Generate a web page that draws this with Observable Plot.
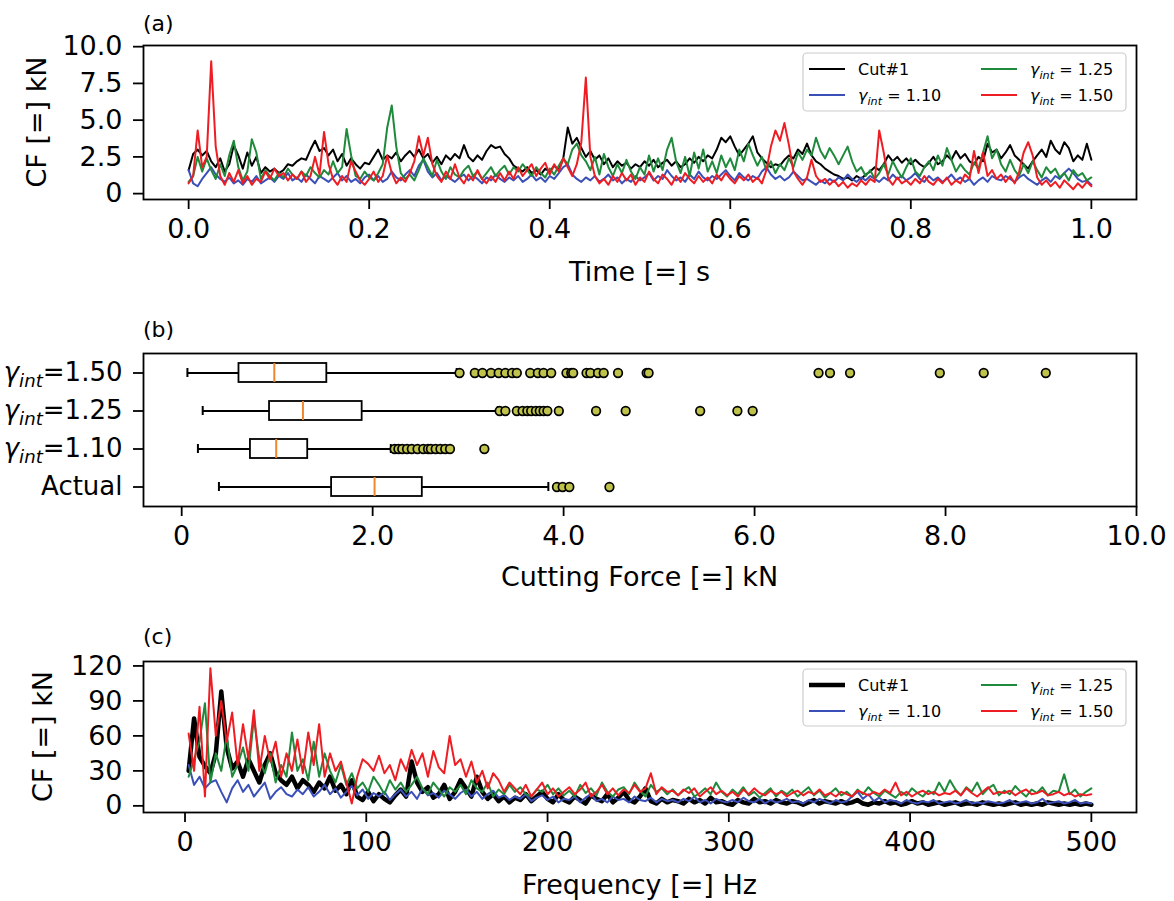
<!DOCTYPE html>
<html><head><meta charset="utf-8">
<script src="https://cdn.jsdelivr.net/npm/d3@7"></script>
<script src="https://cdn.jsdelivr.net/npm/@observablehq/plot@0.6"></script>
<style>
body{margin:0;background:#fff;}
#root{position:relative;width:1174px;height:901px;overflow:hidden;background:#fff;font-family:"DejaVu Sans",sans-serif;}
.panel{position:absolute;left:0;}
#root svg g[aria-label="x-axis tick"], #root svg g[aria-label="y-axis tick"]{stroke-width:1.8px;}
</style></head><body><div id="root"></div>
<script>
// ---------------- DATA ----------------
const seriesNames = ["Cut#1", "γint = 1.10", "γint = 1.25", "γint = 1.50"];
const seriesColors = ["#000000", "#3b4fb8", "#1f8a3c", "#ee1d23"];

// Panel (a): cutting force time series, sampled every 0.005 s from 0 to 1 s
const TIME_STEP = 0.005;
const timeCut1 = [
1.6,2.7,3.0,2.6,2.9,2.2,1.8,2.4,1.5,2.0,
3.3,2.6,1.7,2.8,1.9,2.5,1.4,1.8,1.5,1.7,
1.4,1.6,2.0,1.9,2.2,2.4,2.3,3.0,3.6,2.9,
3.1,2.6,3.0,2.2,2.7,1.9,2.4,2.0,1.7,2.1,
2.0,2.5,3.0,2.3,2.6,2.4,2.8,2.2,2.6,2.9,
2.5,3.0,2.4,2.7,2.1,2.5,2.0,2.6,2.3,2.7,
2.4,3.3,2.5,2.2,2.6,2.3,2.9,3.3,3.1,3.2,
2.7,2.4,1.9,1.7,1.5,1.8,1.4,1.6,1.3,1.7,
1.5,1.9,1.6,2.4,4.5,3.4,3.8,3.1,2.5,2.9,
2.3,2.6,2.0,2.4,1.8,2.2,1.9,2.1,1.7,2.0,
1.8,2.2,1.9,2.3,1.8,2.1,2.3,1.9,2.2,1.8,
2.0,2.4,2.1,2.5,2.2,2.6,2.4,3.0,3.8,3.5,
3.9,3.2,2.6,3.0,3.4,3.9,2.8,2.4,2.1,1.8,
2.0,1.9,2.3,2.6,2.4,3.0,2.7,3.4,2.6,2.2,
2.0,1.7,1.5,1.3,1.2,1.0,1.1,0.9,1.2,1.0,
1.3,1.5,1.8,1.6,2.0,2.6,2.2,2.5,2.1,2.4,
2.0,2.3,2.0,1.8,2.1,2.5,2.0,2.2,2.6,2.3,
2.9,2.4,2.7,2.2,2.0,2.5,2.2,3.4,2.8,3.0,
2.4,2.8,3.3,2.6,2.3,2.0,1.7,2.2,2.6,3.0,
2.5,3.6,3.0,2.7,3.5,3.1,2.2,2.6,2.3,3.4,
2.3];
const timeG110 = [
1.6,0.7,0.5,1.0,1.4,1.8,1.3,1.0,0.8,1.1,
0.7,0.9,0.6,1.0,0.8,1.2,0.7,0.9,1.1,0.8,
1.2,1.0,1.4,0.9,1.1,0.8,1.3,1.0,0.7,1.2,
1.0,0.8,1.1,1.4,0.9,1.2,0.8,1.0,0.7,1.1,
1.3,0.9,1.2,0.8,1.0,1.5,1.1,0.9,1.3,1.6,
1.2,1.9,2.3,1.5,1.1,1.4,0.9,1.2,1.0,0.8,
1.1,1.3,0.9,1.2,1.0,0.7,1.1,0.9,1.3,1.0,
0.8,1.1,0.9,1.2,0.8,1.0,1.3,0.9,1.1,0.8,
1.2,1.0,1.4,1.8,2.0,1.3,1.0,0.8,1.1,0.9,
1.2,0.8,1.0,1.3,0.9,1.1,0.7,1.0,0.8,1.2,
0.9,1.1,1.4,0.9,1.2,1.0,1.6,1.2,0.9,1.1,
0.8,1.3,1.0,1.5,1.1,0.9,1.2,1.0,1.3,1.6,
1.2,0.9,1.4,1.1,0.9,1.2,1.0,1.5,1.8,1.3,
1.0,1.2,0.9,1.1,1.5,1.2,0.9,1.0,0.8,0.6,
0.9,0.7,1.0,0.8,1.1,0.9,1.3,1.0,0.8,1.1,
0.9,1.2,1.0,0.8,1.1,0.9,1.3,1.0,1.2,0.9,
1.1,1.4,1.0,0.8,1.2,0.9,1.1,0.8,1.0,1.3,
0.9,1.1,0.8,1.0,0.6,0.9,1.1,0.8,1.2,1.0,
0.9,1.2,1.0,0.8,1.1,1.3,1.0,0.8,0.6,0.9,
1.1,0.8,1.2,1.0,1.4,1.7,1.4,1.0,0.8,0.9,
0.6];
const timeG125 = [
0.8,1.2,2.5,1.5,2.4,1.6,1.0,2.0,1.2,2.6,
3.6,1.8,0.9,1.5,3.7,2.8,1.0,1.6,1.2,0.9,
1.4,1.1,1.7,1.3,1.0,1.5,1.2,1.8,1.4,1.1,
1.6,1.3,2.2,1.4,1.8,4.4,2.6,1.2,1.0,1.5,
1.1,0.9,1.4,2.0,4.5,6.0,3.2,1.4,1.0,1.3,
0.9,1.6,2.4,1.8,1.2,2.3,1.5,1.0,1.8,1.3,
1.1,1.6,1.9,1.2,1.5,1.0,1.4,1.8,1.2,1.6,
1.9,1.3,1.8,1.5,2.0,1.6,1.2,1.8,1.4,1.1,
1.7,1.3,1.9,2.4,2.0,3.0,3.4,2.6,2.2,1.6,
2.5,1.3,2.7,1.8,1.2,2.0,1.4,2.3,1.5,1.0,
1.8,1.3,2.6,1.5,2.4,1.6,3.0,3.8,2.2,1.4,
2.5,1.2,2.8,1.7,3.0,1.5,2.2,1.4,2.6,1.8,
2.4,1.6,3.0,2.2,3.4,2.6,1.9,2.5,1.6,2.2,
1.4,2.0,1.6,2.4,1.8,2.8,2.3,3.0,2.6,3.8,
2.9,2.4,3.1,2.6,2.0,2.6,3.2,2.2,1.5,1.8,
1.2,1.6,1.0,1.4,2.0,1.3,2.2,1.6,1.1,1.8,
2.4,1.5,1.2,1.8,2.2,1.6,2.6,1.9,3.1,2.3,
1.5,2.0,1.6,1.3,2.1,1.7,2.8,3.9,2.4,3.0,
2.0,1.5,2.3,1.6,1.2,2.0,1.4,2.2,1.6,1.1,
1.8,1.4,1.7,1.1,1.4,0.9,1.6,1.2,1.4,0.9,
1.1];
const timeG150 = [
0.7,1.2,4.3,1.8,2.5,9.0,3.2,1.2,0.6,1.4,
0.8,1.6,0.7,1.2,0.6,1.0,0.8,1.5,1.0,1.7,
1.2,1.4,0.9,1.3,1.0,1.5,0.8,1.2,2.5,1.3,
4.2,2.0,1.0,0.6,1.2,0.8,2.2,1.5,0.9,0.6,
1.0,1.5,0.8,1.2,2.6,1.4,0.7,1.1,0.8,1.4,
2.2,3.9,2.6,3.8,2.0,1.2,0.8,1.5,1.0,2.0,
1.1,0.7,1.3,0.9,1.6,1.0,0.7,1.2,0.8,1.4,
0.9,1.5,1.0,1.8,1.2,1.6,2.0,1.2,1.7,2.1,
1.3,2.0,1.5,2.4,1.8,1.2,2.0,3.5,7.9,2.5,
1.2,0.7,1.0,0.6,1.2,0.8,1.4,0.9,1.3,0.6,
1.1,0.8,1.5,1.0,0.7,1.3,1.0,0.6,1.2,0.8,
1.4,1.0,0.7,1.2,0.8,1.1,0.7,1.3,0.9,1.4,
1.0,0.7,1.2,0.9,1.3,0.8,1.1,0.7,1.6,3.2,
4.3,3.6,4.8,3.3,1.5,1.0,0.6,1.1,2.3,1.2,
0.8,1.0,0.6,0.9,0.5,0.8,0.4,0.7,0.5,0.9,
0.6,1.0,0.8,4.3,2.8,1.0,0.6,1.1,0.7,0.9,
0.6,1.0,0.7,1.2,0.8,0.6,1.0,0.7,1.1,0.6,
0.9,0.7,1.3,1.0,2.9,1.4,2.8,1.2,1.6,1.0,
1.3,0.8,1.2,0.7,1.5,2.8,3.5,2.6,1.1,0.6,
0.9,0.5,0.8,0.4,0.9,0.6,0.3,0.7,0.4,0.8,
0.5];
const timeTicks = [0, 0.2, 0.4, 0.6, 0.8, 1.0];
const forceTicksA = [0, 2.5, 5, 7.5, 10];

// Panel (b): box-plot summaries (kN)
const boxCategories = ["γint=1.50", "γint=1.25", "γint=1.10", "Actual"];
const boxWhiskerLow = [0.06, 0.22, 0.17, 0.39];
const boxQ1 = [0.60, 0.92, 0.72, 1.57];
const boxMedian = [0.97, 1.27, 0.99, 2.02];
const boxQ3 = [1.52, 1.89, 1.32, 2.52];
const boxWhiskerHigh = [2.88, 3.31, 2.19, 3.84];
const outliersG150 = [2.91,3.07,3.15,3.24,3.32,3.39,3.46,3.51,3.65,3.73,3.79,3.87,4.03,4.08,4.10,4.24,4.28,4.36,4.42,4.57,4.87,4.89,6.67,6.79,7.00,7.94,8.40,9.05];
const outliersG125 = [3.33,3.39,3.51,3.57,3.62,3.66,3.71,3.75,3.79,3.83,3.95,4.34,4.65,5.43,5.82,5.98];
const outliersG110 = [2.23,2.27,2.31,2.36,2.41,2.47,2.53,2.58,2.61,2.66,2.71,2.76,2.81,3.17];
const outliersActual = [3.93,3.99,4.06,4.48];
const forceTicksB = [0, 2, 4, 6, 8, 10];

// Panel (c): spectrum amplitude, every 3 Hz from 2 Hz to 500 Hz
const FREQ_START = 2, FREQ_STEP = 3;
const specCut1 = [
30,75,42,34,28,45,98,50,32,38,
25,40,30,20,35,45,28,22,18,25,
15,22,18,12,20,15,25,13,18,10,
22,8,5,12,4,10,6,3,9,14,
8,38,20,12,16,7,10,18,6,12,
22,15,8,25,12,6,10,4,8,3,
7,5,10,4,8,12,6,3,10,5,
3,8,5,2,9,6,4,10,3,7,
12,5,3,8,15,4,2,6,3,5,
4,2,6,3,5,2,7,3,4,2,
1,5,3,2,6,3,4,2,5,3,
2,4,3,1,3,5,2,4,3,2,
4,2,3,5,2,1,3,2,4,2,
3,1,2,4,2,3,1,2,3,1,
2,3,1,2,2,1,3,2,1,2,
1,2,3,1,2,1,2,1,3,2,
1,2,1,2,1,2,1];
const specG110 = [
35,18,25,15,20,22,12,3,15,22,
12,18,8,14,20,6,12,16,10,8,
14,10,16,8,12,18,10,15,7,12,
17,9,14,6,11,8,12,5,10,14,
8,12,6,15,9,11,7,13,10,6,
11,14,8,12,6,10,13,7,9,5,
8,6,10,4,7,9,5,8,3,6,
5,8,3,7,10,4,6,3,8,5,
6,3,8,5,4,7,3,6,4,5,
3,6,4,8,3,5,2,6,4,3,
5,3,7,4,3,6,2,5,3,4,
6,3,4,2,5,3,6,4,2,5,
3,4,8,12,6,10,4,7,3,5,
4,2,5,3,2,4,3,5,2,3,
4,2,3,5,2,3,2,4,3,2,
3,5,2,3,4,2,3,6,2,3,
4,2,3,5,2,3,2];
const specG125 = [
25,40,55,88,20,45,30,60,25,35,
50,30,75,40,28,45,20,35,25,63,
30,40,22,55,25,45,30,20,35,18,
28,15,20,12,25,18,10,22,14,20,
12,18,25,15,10,20,14,8,16,12,
18,10,22,15,12,20,8,14,10,18,
12,16,10,8,14,12,18,10,15,9,
13,8,18,11,15,9,20,12,8,14,
16,10,20,13,8,18,12,15,10,14,
9,13,16,8,11,15,10,20,12,8,
14,10,16,9,12,7,11,15,8,13,
10,14,8,12,16,9,13,7,11,15,
9,12,8,14,10,16,11,8,13,10,
7,12,9,15,11,8,13,10,20,12,
22,14,9,16,12,20,10,15,18,9,
13,10,17,12,8,14,11,16,9,13,
12,27,10,14,8,12,15];
const specG150 = [
62,30,85,8,118,60,90,55,80,35,
70,40,82,30,60,38,55,25,45,30,
57,28,63,35,70,25,45,30,38,20,
2,25,40,36,30,43,28,35,22,40,
30,48,35,45,25,47,33,28,60,35,
40,25,38,20,30,15,28,22,12,20,
15,10,18,8,14,20,10,15,8,12,
16,10,14,20,8,12,18,10,15,9,
14,11,18,12,15,28,10,16,12,13,
9,14,11,15,8,12,16,10,13,9,
12,8,14,10,15,11,9,13,10,12,
8,11,13,9,12,10,14,9,11,8,
12,10,8,13,11,9,12,10,14,11,
20,9,12,8,11,13,10,12,9,11,
10,13,9,15,11,8,12,16,10,12,
11,13,9,12,14,10,11,13,9,10,
12,9,11,8,10,9,10];
const freqTicks = [0, 100, 200, 300, 400, 500];
const ampTicks = [0, 30, 60, 90, 120];

// ---------------- RENDER ----------------
const FONT = "DejaVu Sans";
const BIG = 27;
const CAT = 26;
const root = document.getElementById("root");

function place(svg, top) {
  const div = document.createElement("div");
  div.className = "panel";
  div.style.top = top + "px";
  div.appendChild(svg);
  root.appendChild(div);
  return d3.select(svg);
}
function baseStyle() {
  return {fontFamily: FONT, fontSize: BIG + "px", background: "transparent", color: "black", overflow: "visible"};
}
function gammaText(sel, rest, fs) {
  sel.text(null);
  sel.append("tspan").attr("font-style", "italic").text("γ");
  sel.append("tspan").attr("font-style", "italic").attr("font-size", fs * 0.7).attr("dy", fs * 0.22).text("int");
  sel.append("tspan").attr("dy", -fs * 0.22).text(rest);
}
function addText(svg, x, y, str, opts = {}) {
  const t = svg.append("text").attr("x", x).attr("y", y).attr("font-family", FONT)
    .attr("font-size", opts.size || BIG).attr("text-anchor", opts.anchor || "start").attr("fill", "black").text(str);
  if (opts.rotate) t.attr("transform", `rotate(-90 ${x} ${y})`).attr("dominant-baseline", "central");
  return t;
}
const fmt1 = d => d === 0 ? "0" : d.toFixed(1);
const XPAD = 9, YPAD = 11;

// ----- Panel (a)
const timeSeries = [timeCut1, timeG110, timeG125, timeG150];
const dataA = timeSeries.map((arr, k) => arr.map((v, i) => ({t: i * TIME_STEP, v, s: seriesNames[k]})));
const svgA = Plot.plot({
  width: 1174, height: 300, marginTop: 45, marginBottom: 101, marginLeft: 143, marginRight: 38,
  style: baseStyle(),
  x: {domain: [-0.05, 1.05], ticks: timeTicks, tickFormat: d => d.toFixed(1), tickSize: 10, tickPadding: XPAD, label: null},
  y: {domain: [-0.4, 10.08], ticks: forceTicksA, tickFormat: fmt1, tickSize: 10, tickPadding: YPAD, label: null},
  marks: [
    ...dataA.map((d, k) => Plot.line(d, {x: "t", y: "v", stroke: seriesColors[k], strokeWidth: 2})),
    Plot.frame({stroke: "black", strokeWidth: 1.8})
  ]
});
const A = place(svgA, 0);
addText(A, 143, 31, "(a)", {size: 22});
addText(A, 36, 122, "CF [=] kN", {anchor: "middle", rotate: true});
addText(A, 639.5, 281, "Time [=] s", {anchor: "middle"});

// ----- Panel (b)
const boxData = boxCategories.map((c, i) => ({
  cat: c, lo: boxWhiskerLow[i], q1: boxQ1[i], med: boxMedian[i], q3: boxQ3[i], hi: boxWhiskerHigh[i]
}));
const outlierLists = [outliersG150, outliersG125, outliersG110, outliersActual];
const outlierData = outlierLists.flatMap((arr, i) => arr.map(v => ({cat: boxCategories[i], v})));
const svgB = Plot.plot({
  width: 1174, height: 310, marginTop: 53, marginBottom: 104, marginLeft: 143, marginRight: 38,
  style: baseStyle(),
  x: {domain: [-0.4, 10], ticks: forceTicksB, tickFormat: fmt1, tickSize: 10, tickPadding: XPAD, label: null},
  y: {type: "band", domain: boxCategories, paddingInner: 0.5, paddingOuter: 0.25, tickSize: 10, tickPadding: YPAD, label: null},
  marks: [
    Plot.ruleY(boxData, {x1: "lo", x2: "q1", y: "cat", stroke: "black", strokeWidth: 1.8}),
    Plot.ruleY(boxData, {x1: "q3", x2: "hi", y: "cat", stroke: "black", strokeWidth: 1.8}),
    Plot.barX(boxData, {x1: "q1", x2: "q3", y: "cat", fill: "white", stroke: "black", strokeWidth: 1.8}),
    Plot.tickX(boxData, {x: "med", y: "cat", stroke: "#f0862e", strokeWidth: 2}),
    Plot.tickX(boxData, {x: "lo", y: "cat", stroke: "black", strokeWidth: 2, insetTop: 5, insetBottom: 5}),
    Plot.tickX(boxData, {x: "hi", y: "cat", stroke: "black", strokeWidth: 2, insetTop: 5, insetBottom: 5}),
    Plot.dot(outlierData, {x: "v", y: "cat", r: 4.3, fill: "#bfc34a", stroke: "black", strokeWidth: 1.7}),
    Plot.frame({stroke: "black", strokeWidth: 1.8})
  ]
});
const B = place(svgB, 300);
B.selectAll('g[aria-label="y-axis tick label"] text').each(function () {
  const s = d3.select(this);
  const txt = s.text();
  s.attr("font-size", CAT);
  if (txt.startsWith("γint")) gammaText(s, txt.slice(4), CAT);
});
addText(B, 143, 37, "(b)", {size: 22});
addText(B, 639.5, 286, "Cutting Force [=] kN", {anchor: "middle"});

// ----- Panel (c)
const specSeries = [specCut1, specG110, specG125, specG150];
const dataC = specSeries.map((arr, k) => arr.map((v, i) => ({f: FREQ_START + i * FREQ_STEP, v})));
const svgC = Plot.plot({
  width: 1174, height: 291, marginTop: 51, marginBottom: 89, marginLeft: 143, marginRight: 38,
  style: baseStyle(),
  x: {domain: [-22.9, 524.9], ticks: freqTicks, tickFormat: d => String(d), tickSize: 10, tickPadding: XPAD, label: null},
  y: {domain: [-5.7, 123.8], ticks: ampTicks, tickFormat: d => String(d), tickSize: 10, tickPadding: YPAD, label: null},
  marks: [
    ...dataC.map((d, k) => Plot.line(d, {x: "f", y: "v", stroke: seriesColors[k], strokeWidth: k === 0 ? 4.5 : 2})),
    Plot.frame({stroke: "black", strokeWidth: 1.8})
  ]
});
const C = place(svgC, 610);
addText(C, 143, 34, "(c)", {size: 22});
addText(C, 42, 126.5, "CF [=] kN", {anchor: "middle", rotate: true});
addText(C, 639.5, 284, "Frequency [=] Hz", {anchor: "middle"});

// ----- Legends (overlay)
const overlay = d3.select(root).append("svg").attr("width", 1174).attr("height", 901)
  .style("position", "absolute").style("left", 0).style("top", 0).style("pointer-events", "none");
function legend(x, y, w, h, thickFirst) {
  const g = overlay.append("g");
  g.append("rect").attr("x", x).attr("y", y).attr("width", w).attr("height", h).attr("rx", 4)
    .attr("fill", "white").attr("fill-opacity", 0.85).attr("stroke", "#cccccc").attr("stroke-width", 1.2);
  const cols = [[0, 1], [2, 3]];
  const colX = [x + 6, x + 178];
  const rowY = [y + 16, y + 42];
  cols.forEach((idx, c) => idx.forEach((k, r) => {
    const lx = colX[c], ly = rowY[r];
    g.append("line").attr("x1", lx).attr("x2", lx + 36).attr("y1", ly).attr("y2", ly)
      .attr("stroke", seriesColors[k]).attr("stroke-width", thickFirst && k === 0 ? 4.5 : 2);
    const t = g.append("text").attr("x", lx + 49).attr("y", ly + 6).attr("font-family", FONT)
      .attr("font-size", 16).attr("fill", "black");
    const name = seriesNames[k];
    if (name.startsWith("γint")) gammaText(t, name.slice(4), 16); else t.text(name);
  }));
}
legend(803, 53, 323, 58, false);
legend(803, 669, 323, 57, true);
</script></body></html>
